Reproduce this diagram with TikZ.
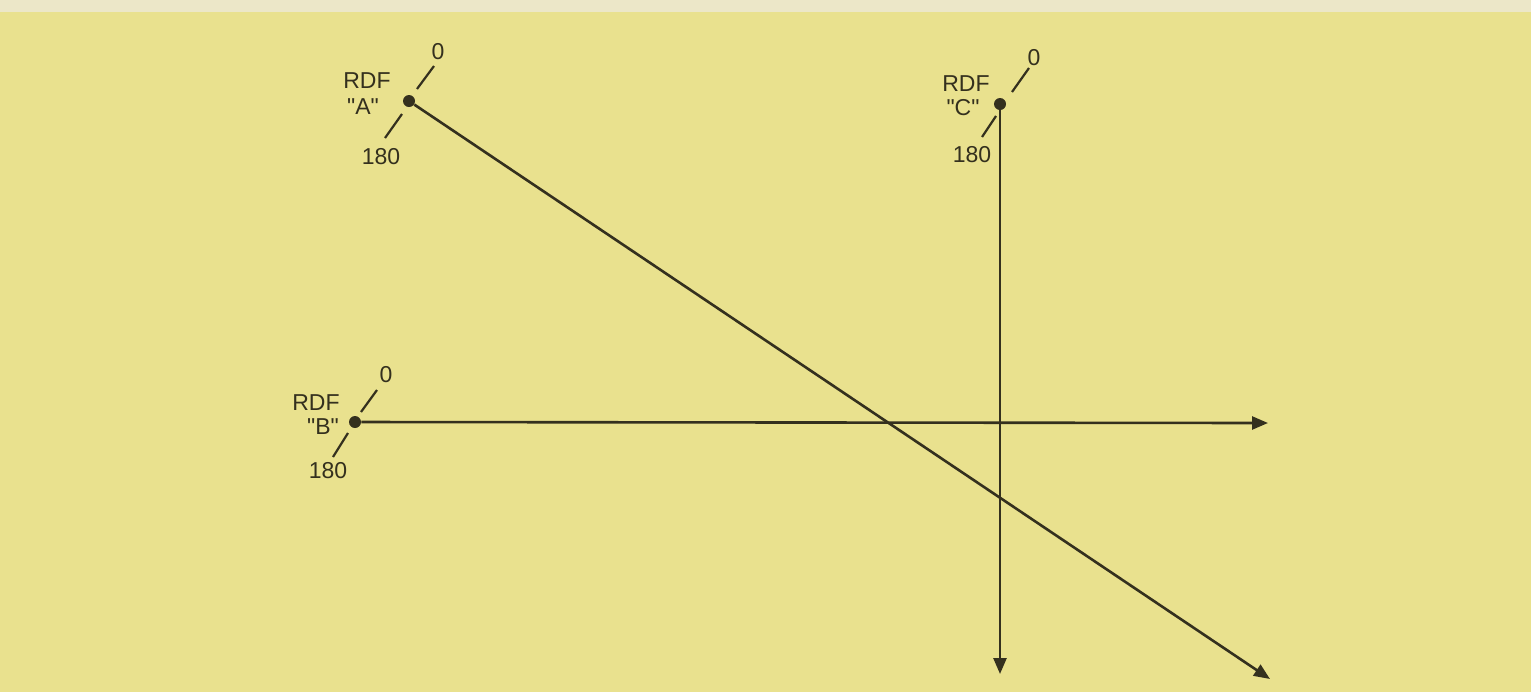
\documentclass[tikz,border=0pt]{standalone}
\usepackage{fontspec}
\setmainfont{Liberation Sans}[Ligatures=TeXOff]
\usetikzlibrary{arrows.meta}
\definecolor{paper}{RGB}{233,225,142}
\definecolor{paperTop}{RGB}{236,231,200}
\definecolor{ink}{RGB}{52,48,30}
\tikzset{
  dot/.style={circle,fill=ink,inner sep=0pt,minimum size=6pt},
  bearing/.style={draw=ink,line width=1.3pt,-{Triangle[length=8pt,width=6.5pt]}},
  tick/.style={draw=ink,line width=1.1pt},
  lbl/.style={text=ink,font=\fontsize{11.5}{13}\selectfont,inner sep=0pt}
}
\begin{document}
\begin{tikzpicture}[x=0.5pt,y=-0.5pt]
\useasboundingbox (0,0) rectangle (1531,692);
\fill[paper] (0,0) rectangle (1531,692);
\fill[paperTop] (0,0) rectangle (1531,12);
% stations
\node[dot] (A) at (409,101) {};
\node[dot] (B) at (355,422) {};
\node[dot] (C) at (1000,104) {};
% bearing line ends
\coordinate (Aend) at (1270,679);
\coordinate (Bend) at (1268,423);
\coordinate (Cend) at (1000,674);
% bearing lines
\draw[bearing] (A) -- (Aend);
\draw[bearing] (B) -- (Bend);
\draw[bearing] (C) -- (Cend);
% ticks A
\draw[tick] (385,138) -- (402,114);
\draw[tick] (417,89) -- (434,66);
% ticks B
\draw[tick] (333,457) -- (348,433);
\draw[tick] (361,412) -- (377,390);
% ticks C
\draw[tick] (982,137) -- (996,116);
\draw[tick] (1012,92) -- (1029,68);
% labels A
\node[lbl] (A0) at (438,52) {0};
\node[lbl] (ARDF) at (367,81) {RDF};
\node[lbl] (AN) at (363,107) {"A"};
\node[lbl] (A180) at (381,157) {180};
% labels B
\node[lbl] (B0) at (386,375) {0};
\node[lbl] (BRDF) at (316,403) {RDF};
\node[lbl] (BN) at (323,427) {"B"};
\node[lbl] (B180) at (328,471) {180};
% labels C
\node[lbl] (C0) at (1034,58) {0};
\node[lbl] (CRDF) at (966,84) {RDF};
\node[lbl] (CN) at (963,108) {"C"};
\node[lbl] (C180) at (972,155) {180};
\end{tikzpicture}
\end{document}
